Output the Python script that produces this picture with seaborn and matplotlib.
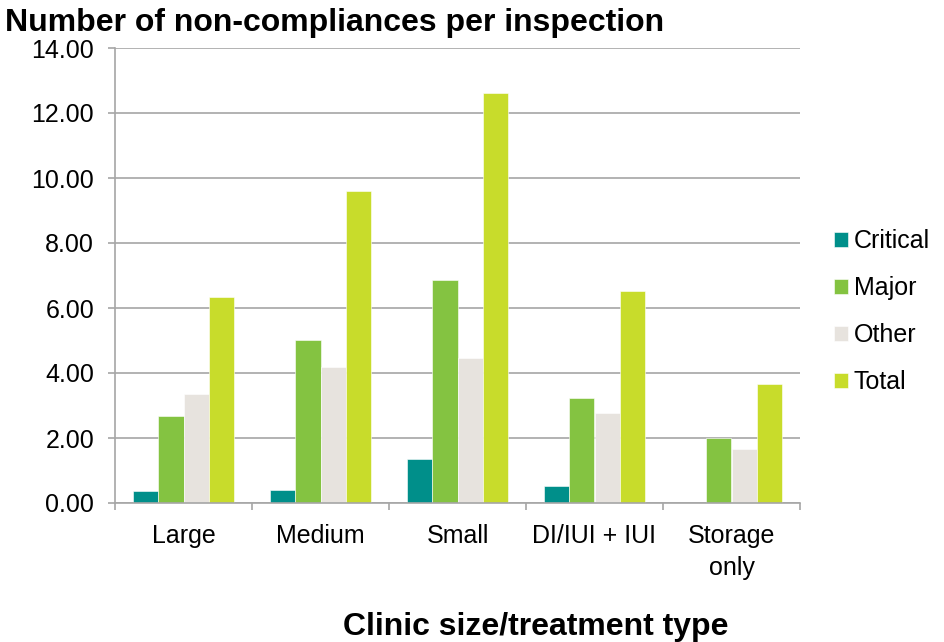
"""Grouped bar chart of non-compliances per inspection."""

import numpy as np
import pandas as pd
import seaborn as sns
import matplotlib.pyplot as plt
from matplotlib.ticker import FixedLocator, FormatStrFormatter

categories = ["Large", "Medium", "Small", "DI/IUI + IUI", "Storage\nonly"]
series = ["Critical", "Major", "Other", "Total"]
critical = [0.37, 0.40, 1.35, 0.52, 0.0]
major = [2.68, 5.02, 6.86, 3.23, 2.00]
other = [3.35, 4.18, 4.46, 2.77, 1.66]
total = [6.34, 9.60, 12.62, 6.52, 3.66]
colors = ["#008F8A", "#84C341", "#E7E3DE", "#C8DC2B"]

df = pd.DataFrame({"Clinic": categories, "Critical": critical, "Major": major,
                   "Other": other, "Total": total})
mdf = df.melt(id_vars="Clinic", var_name="Type", value_name="Value")

sns.set_theme(style="white")
plt.rcParams['font.family'] = ['Liberation Sans', 'DejaVu Sans']
plt.rcParams['text.color'] = 'black'

fig = plt.figure(figsize=(9.44, 6.42), dpi=100)
ax = fig.add_axes([115 / 944, 1 - 503 / 642, (800 - 115) / 944, (503 - 48) / 642])

sns.barplot(data=mdf, x="Clinic", y="Value", hue="Type", hue_order=series,
            palette=colors, width=0.74, saturation=1, ax=ax,
            edgecolor="white", linewidth=0.4)

ax.set_ylim(0, 14)
ax.set_xlim(-0.5, 4.5)
ax.set_yticks(np.arange(0, 14.01, 2))
ax.yaxis.set_major_formatter(FormatStrFormatter("%.2f"))
ax.yaxis.grid(True, color="#A6A6A6", linewidth=1.2)
ax.set_axisbelow(True)

for side in ["top", "right"]:
    ax.spines[side].set_visible(False)
for side in ["left", "bottom"]:
    ax.spines[side].set_color("#A6A6A6")
    ax.spines[side].set_linewidth(1.2)

ax.tick_params(axis="y", which="major", left=True, length=5, width=1.2,
               color="#A6A6A6", labelsize=18, pad=10, labelcolor="black")
ax.tick_params(axis="x", which="major", length=0, labelsize=18, pad=15,
               labelcolor="black")
for t in ax.get_xticklabels():
    t.set_linespacing(1.45)
ax.xaxis.set_minor_locator(FixedLocator(np.arange(-0.5, 4.6, 1)))
ax.tick_params(axis="x", which="minor", bottom=True, length=5, width=1.2,
               color="#A6A6A6")

ax.set_xlabel("")
ax.set_ylabel("")

fig.text(5 / 944, 1 - 23 / 642, "Number of non-compliances per inspection",
         fontsize=23, fontweight="bold", ha="left", va="center", color="black")
fig.text(536 / 944, 1 - 627 / 642, "Clinic size/treatment type",
         fontsize=23, fontweight="bold", ha="center", va="center", color="black")

ax.legend(loc="center left", bbox_to_anchor=(1.035, 0.42), frameon=False,
          fontsize=18, handlelength=0.55, handleheight=0.55, handletextpad=0.25,
          labelspacing=0.92, borderaxespad=0, labelcolor="black")

fig.savefig("out.png", dpi=100)
plt.close(fig)
